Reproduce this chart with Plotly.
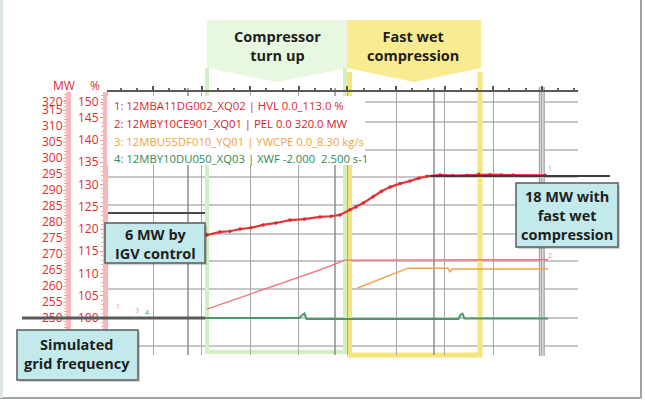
import plotly.graph_objects as go

W, H = 645, 401

# ---- trend data (time in s, MW for power, % display units for the rest) ----
pel_t = [3.2, 40.0, 80.0, 125.4, 126.7, 142.7, 155.0, 167.4, 181.0, 195.8, 212.0, 229.1,
         247.0, 266.2, 280.0, 290.9, 303.2, 310.6, 320.0, 331.6, 342.0, 352.6, 365.0,
         377.3, 388.0, 398.3, 414.3, 430.0, 447.7, 462.0, 476.1, 490.0, 504.5, 544.0]
pel_mw = [276.3, 276.2, 276.4, 276.2, 275.9, 276.9, 277.1, 277.8, 278.2, 279.1, 279.7, 280.6,
          280.9, 281.6, 281.8, 282.2, 283.8, 284.7, 286.0, 287.9, 289.6, 290.9, 292.0,
          292.8, 293.7, 294.3, 294.7, 294.5, 294.6, 294.9, 294.8, 294.7, 294.7, 294.6]

hvl_t = [126.7, 155.1, 186.0, 216.9, 241.6, 266.2, 297.1, 402.0, 547.7]
hvl_pct = [102.0, 103.8, 105.6, 107.6, 109.2, 110.8, 113.0, 113.1, 113.1]

ywc_t = [311.9, 331.6, 352.6, 374.8, 424.2, 426.7, 429.1, 547.7]
ywc_disp = [106.7, 108.1, 109.7, 111.2, 111.2, 110.3, 111.0, 111.0]

xwf_t = [3.2, 120.0, 240.5, 245.0, 247.0, 249.5, 300.0, 437.0, 440.0, 442.0, 444.5, 547.7]
xwf_disp = [100.0, 100.0, 100.0, 100.8, 101.0, 99.8, 99.8, 99.8, 100.8, 101.0, 99.9, 99.9]

# reference levels (MW)
pel_start_level = 250.0
igv_level = 282.8
wet_level = 294.4

# axis tick labels
mw_ticks = [250, 255, 260, 265, 270, 275, 280, 285, 290, 295, 300, 305, 310, 315, 317.6]
mw_text = ["250", "255", "260", "265", "270", "275", "280", "285", "290", "295", "300",
           "305", "310", "315", "320"]
pct_ticks = [100, 105, 110, 115, 120, 125, 130, 135, 140, 145, 148.5]
pct_text = ["100", "105", "110", "115", "120", "125", "130", "135", "140", "145", "150"]

legend_lines = [
    ("1: 12MBA11DG002_XQ02 | HVL 0.0_113.0 %", "#d82a30"),
    ("2: 12MBY10CE901_XQ01 | PEL 0.0 320.0 MW", "#cf262c"),
    ("3: 12MBU55DF010_YQ01 | YWCPE 0.0_8.30 kg/s", "#f4a23a"),
    ("4: 12MBY10DU050_XQ03 | XWF -2.000  2.500 s-1", "#2f8a52"),
]

extra_cursor_t = [103.2, 284.7, 406.9]

# horizontal division rows of the trend display (pixel rows of the screen grid)
grid_rows_px = [102, 122, 150, 177, 205, 234, 261, 289, 318, 346]


def PX(x):
    return x / W


def PY(y):
    return 1 - y / H


def T(px):
    return (px - 104.4) * 60 / 48.6


fig = go.Figure()

fig.add_trace(go.Scatter(x=hvl_t, y=hvl_pct, mode="lines", yaxis="y2",
                         line=dict(color="#ee7479", width=1.4), hoverinfo="skip"))
fig.add_trace(go.Scatter(x=ywc_t, y=ywc_disp, mode="lines", yaxis="y2",
                         line=dict(color="#f2a24a", width=1.5), hoverinfo="skip"))
fig.add_trace(go.Scatter(x=xwf_t, y=xwf_disp, mode="lines", yaxis="y2",
                         line=dict(color="#4c9868", width=2), hoverinfo="skip"))
fig.add_trace(go.Scatter(x=pel_t, y=pel_mw, mode="lines+markers", yaxis="y",
                         line=dict(color="#e2363a", width=2.2),
                         marker=dict(size=3.5, color="#dd2a2f"), hoverinfo="skip"))

shapes = []

# screen grid rows
for gy in grid_rows_px:
    shapes.append(dict(type="line", xref="paper", yref="paper", layer="below",
                       x0=PX(107), x1=PX(578), y0=PY(gy), y1=PY(gy),
                       line=dict(color="#b5b5b5", width=1.3)))

# phase brackets (light green / yellow)
shapes.append(dict(type="path", xref="paper", yref="paper", layer="below",
                   path=f"M{PX(207)},{PY(20)} L{PX(347)},{PY(20)} L{PX(347)},{PY(68)} "
                        f"L{PX(277)},{PY(82)} L{PX(207)},{PY(68)} Z",
                   fillcolor="#e8f7df", line=dict(width=0)))
shapes.append(dict(type="path", xref="paper", yref="paper", layer="below",
                   path=f"M{PX(347)},{PY(20)} L{PX(481)},{PY(20)} L{PX(481)},{PY(68)} "
                        f"L{PX(414)},{PY(82)} L{PX(347)},{PY(68)} Z",
                   fillcolor="#fbeb90", line=dict(width=0)))
shapes.append(dict(type="path", xref="paper", yref="paper", layer="below",
                   path=f"M{PX(207)},{PY(68)} L{PX(207)},{PY(352)} L{PX(345)},{PY(352)} L{PX(345)},{PY(68)}",
                   line=dict(color="#d2efbf", width=4)))
shapes.append(dict(type="path", xref="paper", yref="paper", layer="below",
                   path=f"M{PX(349.5)},{PY(72)} L{PX(349.5)},{PY(355)} L{PX(480)},{PY(355)} L{PX(480)},{PY(72)}",
                   line=dict(color="#f8e47c", width=5)))

# extra cursor lines and right-hand marker
for tc in extra_cursor_t:
    shapes.append(dict(type="line", xref="x", yref="paper", layer="below",
                       x0=tc, x1=tc, y0=PY(88), y1=PY(355),
                       line=dict(color="#858585", width=1.4)))
shapes.append(dict(type="line", xref="x", yref="paper", layer="below",
                   x0=540, x1=540, y0=PY(87), y1=PY(356),
                   line=dict(color="#d6d6d6", width=5)))
for dx in (-3.0, 3.0):
    shapes.append(dict(type="line", xref="x", yref="paper", layer="below",
                       x0=540 + dx, x1=540 + dx, y0=PY(87), y1=PY(356),
                       line=dict(color="#9c9c9c", width=1)))

# reference level lines
shapes.append(dict(type="line", xref="paper", yref="y", layer="above",
                   x0=PX(22), x1=PX(205), y0=pel_start_level, y1=pel_start_level,
                   line=dict(color="#5a5a5a", width=3)))
shapes.append(dict(type="line", xref="paper", yref="y", layer="above",
                   x0=PX(108), x1=PX(205), y0=igv_level, y1=igv_level,
                   line=dict(color="#4a4a4a", width=2)))
shapes.append(dict(type="line", xref="paper", yref="y", layer="above",
                   x0=PX(430), x1=PX(610), y0=wet_level, y1=wet_level,
                   line=dict(color="#3c3c3c", width=2)))

# white panel behind the channel list
shapes.append(dict(type="rect", xref="paper", yref="paper", layer="above",
                   x0=PX(107), x1=PX(365), y0=PY(96), y1=PY(165),
                   fillcolor="white", line=dict(width=0)))

# callout boxes
callouts = [
    (105, 223, 205, 263),
    (17, 330, 138, 380),
    (516, 183, 618, 247),
]
for (x0, y0, x1, y1) in callouts:
    shapes.append(dict(type="rect", xref="paper", yref="paper", layer="above",
                       x0=PX(x0 + 2), x1=PX(x1 + 2), y0=PY(y0 + 2), y1=PY(y1 + 2),
                       fillcolor="rgba(0,0,0,0.18)", line=dict(width=0)))
    shapes.append(dict(type="rect", xref="paper", yref="paper", layer="above",
                       x0=PX(x0), x1=PX(x1), y0=PY(y0), y1=PY(y1),
                       fillcolor="#c2eaec", line=dict(color="#5b5b5b", width=1.5)))

# outer frame
shapes.append(dict(type="line", xref="paper", yref="paper", layer="above",
                   x0=PX(641), x1=PX(641), y0=PY(0), y1=PY(398),
                   line=dict(color="#a2a2a2", width=2)))
shapes.append(dict(type="line", xref="paper", yref="paper", layer="above",
                   x0=PX(0), x1=PX(641), y0=PY(398), y1=PY(398),
                   line=dict(color="#a2a2a2", width=2)))
shapes.append(dict(type="line", xref="paper", yref="paper", layer="above",
                   x0=PX(1.5), x1=PX(1.5), y0=PY(0), y1=PY(398),
                   line=dict(color="#dce4e8", width=3)))

annotations = []


def text(x, y, s, size=14.5, color="#1e1e1e", bold=True, anchor="center"):
    annotations.append(dict(xref="paper", yref="paper", x=PX(x), y=PY(y),
                            xanchor=anchor, yanchor="middle", showarrow=False,
                            text=f"<b>{s}</b>" if bold else s,
                            font=dict(family="Open Sans", size=size, color=color)))


text(277, 46.5, "Compressor<br>turn up")
text(413, 46.5, "Fast wet<br>compression")
text(155, 243.5, "6 MW by<br>IGV control")
text(77, 354, "Simulated<br>grid frequency")
text(567, 215, "18 MW with<br>fast wet<br>compression")

for i, (s, c) in enumerate(legend_lines):
    text(112, 106 + i * 17.5, s, size=11.3, color=c, bold=False, anchor="left")

text(64, 86, "MW", size=12, color="#dc2b31", bold=False)
text(95, 86, "%", size=12, color="#dc2b31", bold=False)

# small channel flags along the traces
text(118, 306, "1", size=7, color="#f08a8e", bold=False)
text(137, 310, "3", size=7, color="#f2a24a", bold=False)
text(147, 312, "4", size=7, color="#4c9868", bold=False)
text(550, 255, "2", size=7, color="#f08a8e", bold=False)
text(550, 168, "1", size=7, color="#f08a8e", bold=False)

dom_y = [1 - 355 / H, 1 - 92 / H]
axis_font = dict(family="Open Sans", size=12, color="#dc2b31")

fig.update_layout(
    width=W, height=H,
    margin=dict(l=0, r=0, t=0, b=0),
    paper_bgcolor="white", plot_bgcolor="rgba(0,0,0,0)",
    showlegend=False,
    shapes=shapes, annotations=annotations,
    xaxis=dict(domain=[107 / W, 578 / W], range=[T(107), T(578)], side="top",
               anchor="y", tick0=0, dtick=60, showgrid=True, gridcolor="#a9a9a9",
               gridwidth=1.4, showticklabels=False, ticks="outside", ticklen=4,
               tickwidth=1.5, tickcolor="#555", zeroline=False,
               showline=True, linecolor="#5a5a5a", linewidth=2,
               minor=dict(ticks="outside", dtick=20, ticklen=2, tickcolor="#666",
                          showgrid=False)),
    yaxis=dict(domain=dom_y, range=[250 - 37 / 3.2, 250 + 226 / 3.2],
               anchor="free", position=68 / W, side="left",
               tickmode="array", tickvals=mw_ticks, ticktext=mw_text,
               tickfont=axis_font, ticks="outside", ticklen=3, tickcolor="#ef8e8e",
               ticklabelstandoff=-2,
               showgrid=False, zeroline=False,
               showline=True, linecolor="#f6b8b8", linewidth=5,
               minor=dict(ticks="outside", dtick=1, tick0=0, ticklen=2,
                          tickcolor="#f4a6a6", showgrid=False)),
    yaxis2=dict(overlaying="y", range=[100 - 37 / 4.45, 100 + 226 / 4.45],
                anchor="free", position=105 / W, side="left",
                tickmode="array", tickvals=pct_ticks, ticktext=pct_text,
                tickfont=axis_font, ticks="outside", ticklen=3, tickcolor="#ef8e8e",
                ticklabelstandoff=-1,
                showgrid=False, zeroline=False,
                showline=True, linecolor="#f6b8b8", linewidth=5,
                minor=dict(ticks="outside", dtick=1, tick0=0, ticklen=2,
                           tickcolor="#f4a6a6", showgrid=False)),
)

fig.write_html("out.html")
